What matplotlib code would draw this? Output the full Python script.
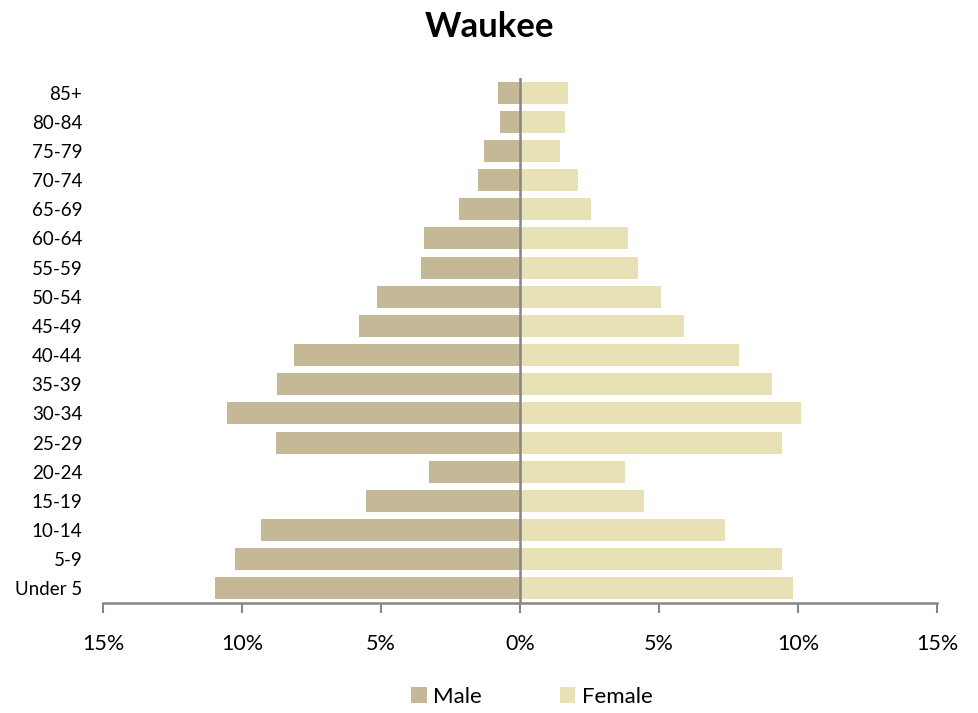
import matplotlib.pyplot as plt
import numpy as np

plt.rcParams["font.family"] = ["Lato", "DejaVu Sans"]

age_groups = ["Under 5", "5-9", "10-14", "15-19", "20-24", "25-29", "30-34",
              "35-39", "40-44", "45-49", "50-54", "55-59", "60-64", "65-69",
              "70-74", "75-79", "80-84", "85+"]
male = [10.97, 10.25, 9.32, 5.54, 3.27, 8.78, 10.54, 8.74, 8.13, 5.79,
        5.14, 3.56, 3.45, 2.19, 1.51, 1.29, 0.72, 0.79]
female = [9.82, 9.42, 7.37, 4.46, 3.78, 9.42, 10.11, 9.06, 7.88, 5.90,
          5.07, 4.24, 3.88, 2.55, 2.09, 1.44, 1.62, 1.73]
xticks = [-15, -10, -5, 0, 5, 10, 15]
xtick_labels = ["15%", "10%", "5%", "0%", "5%", "10%", "15%"]

male_color = "#C4B896"
female_color = "#E8E1B5"
axis_gray = "#868686"

fig = plt.figure(figsize=(9.79, 7.13), dpi=100)
ax = fig.add_axes([103 / 979, 1 - 603 / 713, 834 / 979, 525 / 713])

y = np.arange(len(age_groups))
ax.barh(y, [-v for v in male], height=0.75, color=male_color, label="Male")
ax.barh(y, female, height=0.75, color=female_color, label="Female")

ax.axvline(0, color=axis_gray, lw=1.8)
ax.set_xlim(-15, 15)
ax.set_ylim(-0.5, len(age_groups) - 0.5)

ax.set_xticks(xticks)
ax.set_xticklabels(xtick_labels, fontsize=15.5)
ax.set_yticks(y)
ax.set_yticklabels(age_groups, fontsize=13.5)
ax.tick_params(axis="x", direction="out", length=7, width=1.5,
               color=axis_gray, pad=15)
ax.tick_params(axis="y", length=0, pad=15)

for side in ["left", "right", "top"]:
    ax.spines[side].set_visible(False)
ax.spines["bottom"].set_color(axis_gray)
ax.spines["bottom"].set_linewidth(1.8)

fig.suptitle("Waukee", fontsize=25, fontweight="bold", y=1 - 27 / 713, va="center")

fig.legend(loc="center", bbox_to_anchor=(532 / 979, 1 - 697 / 713), ncol=2,
           frameon=False, fontsize=16, handlelength=0.7, handleheight=0.7,
           handletextpad=0.3, columnspacing=3.5)

fig.savefig("out.png", dpi=100)
